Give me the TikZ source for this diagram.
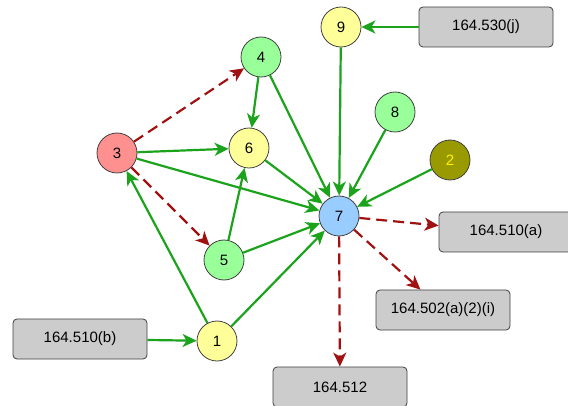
\documentclass[tikz,border=0pt]{standalone}
\usepackage{fontspec}
\setmainfont{Liberation Sans}
\usetikzlibrary{arrows.meta}
\definecolor{okgreen}{HTML}{1CA31C}
\definecolor{badred}{HTML}{A01212}
\definecolor{nodeyellow}{HTML}{FFFF99}
\definecolor{nodegreen}{HTML}{99FF99}
\definecolor{nodered}{HTML}{FF9090}
\definecolor{nodeblue}{HTML}{99CCFF}
\definecolor{nodeolive}{HTML}{999900}
\begin{document}
\begin{tikzpicture}[x=1pt,y=-1pt,>={Stealth[length=14pt,width=13pt,inset=4pt]},line width=2.2pt]
	\tikzstyle{state}=[circle,draw=black!75,line width=0.8pt,minimum size=40pt,inner sep=0pt,font=\fontsize{15}{17}\selectfont]
	\tikzstyle{rule}=[rectangle,draw=black!75,fill=black!20,rounded corners=4pt,line width=0.8pt,minimum width=134pt,minimum height=40pt,font=\fontsize{15}{17}\selectfont]
	\tikzstyle{ok}=[->,draw=okgreen]
	\tikzstyle{bad}=[->,draw=badred,dash pattern=on 11pt off 6pt]
	
	\useasboundingbox (0,0) rectangle (568,406);
	
	\node[state,fill=nodeyellow] (n9) at (341,27) {9};
	\node[state,fill=nodegreen] (n4) at (261,57) {4};
	\node[state,fill=nodegreen] (n8) at (395,112) {8};
	\node[state,fill=nodeolive,text=yellow] (n2) at (450,160) {2};
	\node[state,fill=nodered] (n3) at (117,153) {3};
	\node[state,fill=nodeyellow] (n6) at (249,148) {6};
	\node[state,fill=nodeblue] (n7) at (339,216) {7};
	\node[state,fill=nodegreen] (n5) at (224,260) {5};
	\node[state,fill=nodeyellow] (n1) at (217,341) {1};
	
	\node[rule] (rj) at (486,27) {164.530(j)};
	\node[rule] (ra) at (506,232) {164.510(a)};
	\node[rule] (ri) at (443,310) {164.502(a)(2)(i)};
	\node[rule] (rb) at (80,339) {164.510(b)};
	\node[rule] (rs) at (340,387) {164.512};
	
	\draw[ok] (rj) -- (n9);
	\draw[ok] (rb) -- (n1);
	\draw[ok] (n9) -- (n7);
	\draw[ok] (n4) -- (n6);
	\draw[ok] (n4) -- (n7);
	\draw[ok] (n8) -- (n7);
	\draw[ok] (n2) -- (n7);
	\draw[ok] (n3) -- (n6);
	\draw[ok] (n3) -- (n7);
	\draw[ok] (n6) -- (n7);
	\draw[ok] (n5) -- (n6);
	\draw[ok] (n5) -- (n7);
	\draw[ok] (n1) -- (n3);
	\draw[ok] (n1) -- (n7);
	\draw[bad] (n3) -- (n4);
	\draw[bad] (n3) -- (n5);
	\draw[bad] (n7) -- (ra);
	\draw[bad] (n7) -- (ri);
	\draw[bad] (n7) -- (rs);
\end{tikzpicture}
\end{document}
